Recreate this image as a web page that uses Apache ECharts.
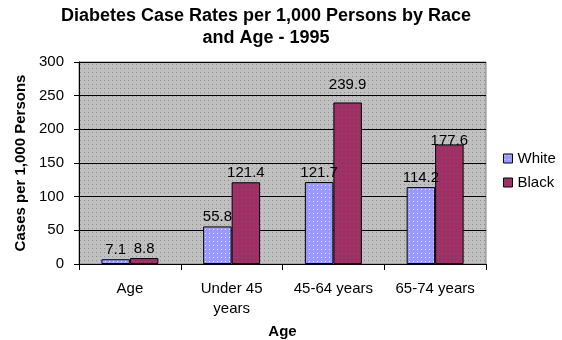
<!DOCTYPE html>
<html>
<head>
<meta charset="utf-8">
<script src="https://cdn.jsdelivr.net/npm/echarts@6/dist/echarts.min.js"></script>
<style>
  html, body { margin: 0; padding: 0; background: #ffffff; }
  #chart { width: 562px; height: 340px; }
</style>
</head>
<body>
<div id="chart"></div>
<script>
// Age groups and diabetes case rates per 1,000 persons, 1995
const categories = ['Age', 'Under 45\nyears', '45-64 years', '65-74 years'];
const whiteRates = [7.1, 55.8, 121.7, 114.2];
const blackRates = [8.8, 121.4, 239.9, 177.6];
const yTicks = { min: 0, max: 300, step: 50 };

const FONT = '"Liberation Sans", Arial, sans-serif';

// Small repeating dotted tile used as a fill pattern
function dottedTile(base, dot, size, points) {
  const c = document.createElement('canvas');
  c.width = size; c.height = size;
  const g = c.getContext('2d');
  g.fillStyle = base;
  g.fillRect(0, 0, size, size);
  g.fillStyle = dot;
  points.forEach(p => g.fillRect(p[0], p[1], 1, 1));
  return { image: c, repeat: 'repeat' };
}

const plotFill = dottedTile('#c0c0c0', '#8c8c8c', 4, [[0, 0]]);
const whiteFill = dottedTile('#9999ff', '#e6e6ff', 4, [[1, 1]]);
const blackFill = dottedTile('#993366', '#e0206a', 4, [[1, 1]]);

const chart = echarts.init(document.getElementById('chart'), null, { renderer: 'canvas' });

function barLabel() {
  return {
    show: true,
    position: 'top',
    distance: 2,
    color: '#000',
    fontFamily: FONT,
    fontSize: 15,
    formatter: p => p.value.toFixed(1)
  };
}

// Per-bar label offsets for the two labels that sit off the default spot
function withLabelNudges(values, nudges) {
  return values.map((v, i) => nudges[i]
    ? { value: v, label: { offset: [0, nudges[i]] } }
    : v);
}

chart.setOption({
  animation: false,
  backgroundColor: '#ffffff',
  textStyle: { fontFamily: FONT, color: '#000' },
  graphic: [{
    type: 'text',
    x: 266,
    y: 5,
    style: {
      text: 'Diabetes Case Rates per 1,000 Persons by Race\nand Age - 1995',
      fontFamily: FONT,
      fontSize: 18,
      fontWeight: 'bold',
      lineHeight: 22,
      fill: '#000',
      align: 'center',
      verticalAlign: 'top'
    }
  }],
  legend: {
    orient: 'vertical',
    left: 498,
    top: 146,
    itemWidth: 9,
    itemHeight: 9,
    itemGap: 9,
    icon: 'rect',
    textStyle: { fontFamily: FONT, fontSize: 15, color: '#000' },
    itemStyle: { borderColor: '#000', borderWidth: 1 },
    data: ['White', 'Black']
  },
  grid: {
    left: 79,
    right: 76,
    top: 62,
    bottom: 76,
    outerBoundsMode: 'none',
    containLabel: false,
    show: true,
    backgroundColor: plotFill,
    borderColor: '#808080',
    borderWidth: 1
  },
  xAxis: {
    type: 'category',
    data: categories,
    name: 'Age',
    nameLocation: 'middle',
    nameGap: 58,
    nameTextStyle: { fontFamily: FONT, fontSize: 15, fontWeight: 'bold', color: '#000' },
    axisLine: { lineStyle: { color: '#000', width: 1 } },
    axisTick: { show: true, length: 6, lineStyle: { color: '#000' } },
    axisLabel: { margin: 15, fontFamily: FONT, fontSize: 15, color: '#000', lineHeight: 20, interval: 0 }
  },
  yAxis: {
    type: 'value',
    min: yTicks.min,
    max: yTicks.max,
    interval: yTicks.step,
    name: 'Cases per 1,000 Persons',
    nameLocation: 'middle',
    nameGap: 42,
    nameTextStyle: { fontFamily: FONT, fontSize: 15, fontWeight: 'bold', color: '#000' },
    axisLine: { show: true, lineStyle: { color: '#000', width: 1 } },
    axisTick: { show: true, length: 5, lineStyle: { color: '#000' } },
    axisLabel: { margin: 15, fontFamily: FONT, fontSize: 15, color: '#000' },
    splitLine: { show: true, lineStyle: { color: '#000', width: 1 } }
  },
  series: [
    {
      name: 'White',
      type: 'bar',
      data: whiteRates,
      barGap: '0%',
      barCategoryGap: '44%',
      itemStyle: { color: whiteFill, borderColor: '#000', borderWidth: 1 },
      label: barLabel()
    },
    {
      name: 'Black',
      type: 'bar',
      data: withLabelNudges(blackRates, [0, 0, -8, 6]),
      barGap: '0%',
      barCategoryGap: '44%',
      itemStyle: { color: blackFill, borderColor: '#000', borderWidth: 1 },
      label: barLabel()
    }
  ]
});
</script>
</body>
</html>
